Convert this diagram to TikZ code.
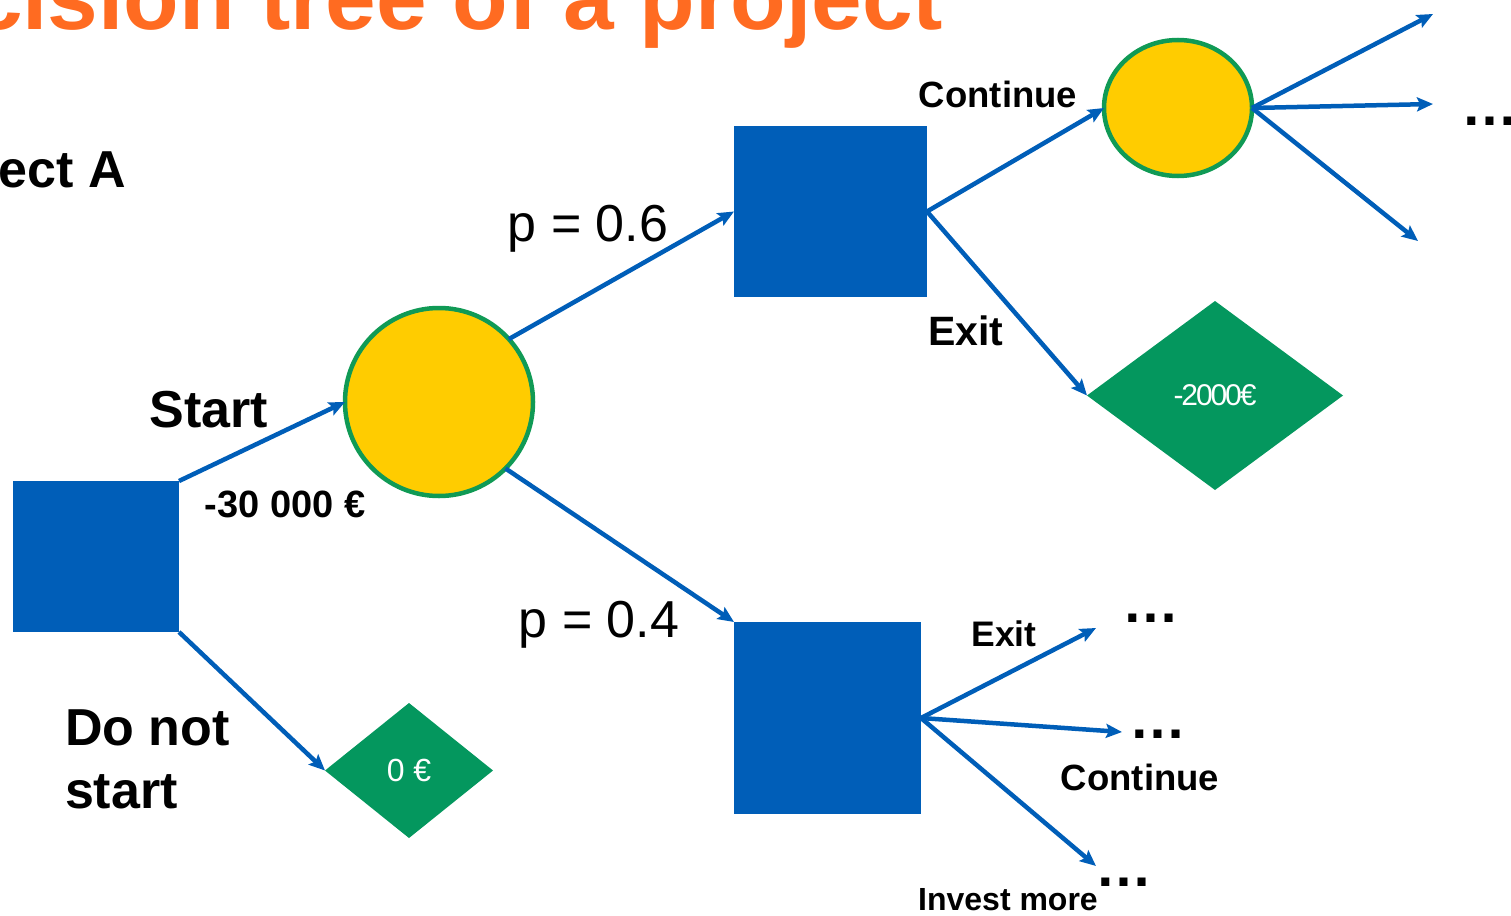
\documentclass[tikz,border=0pt]{standalone}
\usepackage{fontspec}
\setmainfont{Liberation Sans}
\newfontfamily\tightfont[LetterSpace=-7]{Liberation Sans}
\usetikzlibrary{shapes.geometric,arrows.meta}

\definecolor{nodeblue}{HTML}{005EB8}
\definecolor{payoffgreen}{HTML}{04975E}
\definecolor{rimgreen}{HTML}{109A55}
\definecolor{chanceyellow}{HTML}{FFCC00}
\definecolor{titleorange}{HTML}{FF6B21}

\newcommand{\fsize}[1]{\fontsize{#1}{#1}\selectfont}

\tikzset{
  decision/.style={rectangle, fill=nodeblue, inner sep=0pt, outer sep=0pt},
  chance/.style={ellipse, draw=rimgreen, line width=4.5pt, fill=chanceyellow, inner sep=0pt, outer sep=0pt},
  payoff/.style={diamond, fill=payoffgreen, inner sep=0pt, outer sep=0pt, text=white},
  branch/.style={draw=nodeblue, line width=4.5pt, -{Stealth[length=16pt,width=14pt,inset=3pt]}},
  lbl/.style={inner sep=0pt, outer sep=0pt, anchor=base, text=black},
  boldlbl/.style={lbl, font=\bfseries\fsize{#1}},
  plainlbl/.style={lbl, font=\fsize{#1}},
  dots/.style={lbl, font=\bfseries\fsize{57}},
}

\begin{document}
\begin{tikzpicture}[x=1pt, y=-1pt]
  \useasboundingbox (0,0) rectangle (1511,915);
  \clip (0,0) rectangle (1511,915);

  % headings
  \node[boldlbl=91, text=titleorange, anchor=base east] (title) at (943,30) {cision tree of a project};
  \node[boldlbl=52, anchor=base east] (project) at (126,187) {ect A};

  % decision nodes
  \node[decision, minimum width=166pt, minimum height=151pt] (root) at (96,556.5) {};
  \node[decision, minimum width=193pt, minimum height=171pt] (upper) at (830.5,211.5) {};
  \node[decision, minimum width=187pt, minimum height=192pt] (lower) at (827.5,718) {};

  % chance nodes
  \node[chance, minimum width=188pt, minimum height=188pt] (risk) at (439,402) {};
  \node[chance, minimum width=148pt, minimum height=136pt] (next) at (1178,108) {};

  % payoffs
  \node[payoff, minimum width=168pt, minimum height=135pt, font=\fsize{32}] (zero) at (409,770.5) {0 €};
  \node[payoff, minimum width=256pt, minimum height=189pt, font=\tightfont\fsize{30}] (loss) at (1215,395.5) {-2000€};

  % open branch ends
  \coordinate (n1) at (1433,14);
  \coordinate (n2) at (1433,104);
  \coordinate (n3) at (1418,241);
  \coordinate (l1) at (1096,628);
  \coordinate (l2) at (1122,732);
  \coordinate (l3) at (1096,866);

  % branches
  \draw[branch] (root.north east) -- (risk.west);
  \draw[branch] (root.south east) -- (zero.west);
  \draw[branch] (risk.42) -- (upper.west);
  \draw[branch] (risk.-45) -- (lower.north west);
  \draw[branch] (upper.east) -- (next.west);
  \draw[branch] (upper.east) -- (loss.west);
  \draw[branch] (next.east) -- (n1);
  \draw[branch] (next.east) -- (n2);
  \draw[branch] (next.east) -- (n3);
  \draw[branch] (lower.east) -- (l1);
  \draw[branch] (lower.east) -- (l2);
  \draw[branch] (lower.east) -- (l3);

  % branch labels
  \node[boldlbl=52] (start) at (209,427) {Start};
  \node[boldlbl=38] (cost) at (285,517) {-30 000 €};
  \node[boldlbl=52, anchor=base west] (dont1) at (65,745) {Do not};
  \node[boldlbl=52, anchor=base west] (dont2) at (65,808) {start};
  \node[plainlbl=52] (p6) at (588,241) {p = 0.6};
  \node[plainlbl=52] (p4) at (599,637) {p = 0.4};
  \node[boldlbl=36.5] (cont1) at (998,107) {Continue};
  \node[boldlbl=41] (exit1) at (966,345) {Exit};
  \node[boldlbl=35.5] (exit2) at (1004,646) {Exit};
  \node[boldlbl=36.5] (cont2) at (1140,790) {Continue};
  \node[boldlbl=32] (more) at (1008,910) {Invest more};

  % continuation marks
  \node[dots] (d1) at (1490,125) {…};
  \node[dots] (d2) at (1151,622) {…};
  \node[dots] (d3) at (1158,738) {…};
  \node[dots] (d4) at (1124,886) {…};
\end{tikzpicture}
\end{document}
